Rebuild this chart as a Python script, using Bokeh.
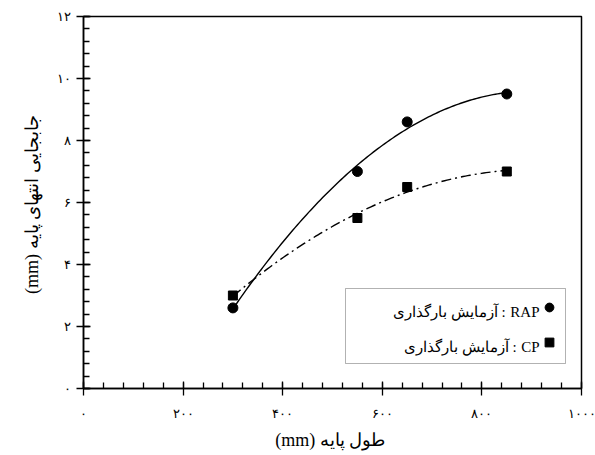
import numpy as np
from bokeh.plotting import figure
from bokeh.models import (Range1d, SingleIntervalTicker, Legend, LegendItem,
                          Label, BoxAnnotation)
from bokeh.embed import file_html
from bokeh.resources import INLINE

# ---- data ----
pile_length = [300, 550, 650, 850]          # mm
rap_disp = [2.6, 7.0, 8.6, 9.5]             # mm
cp_disp = [3.0, 5.5, 6.5, 7.0]              # mm

x_ticks = [0, 200, 400, 600, 800, 1000]
x_tick_labels = ["۰", "۲۰۰", "۴۰۰", "۶۰۰", "۸۰۰", "۱۰۰۰"]
y_ticks = [0, 2, 4, 6, 8, 10, 12]
y_tick_labels = ["۰", "۲", "۴", "۶", "۸", "۱۰", "۱۲"]

x_label = "(mm)  طول پایه"
y_label = "(mm)  جابجایی انتهای پایه"
test_word = "آزمایش بارگذاری"
series_names = ["RAP", "CP"]

FONT = "Liberation Serif"

p = figure(frame_width=498, frame_height=372, output_backend="svg",
           toolbar_location=None, x_range=Range1d(0, 1000), y_range=Range1d(0, 12),
           min_border_left=83, min_border_right=14, min_border_top=16,
           min_border_bottom=67)
p.xgrid.visible = False
p.ygrid.visible = False
p.outline_line_color = "black"
p.outline_line_width = 1.5
p.background_fill_color = "white"
p.border_fill_color = "white"

# quadratic trend curves from the data
xs = np.linspace(min(pile_length), max(pile_length), 120)
rap_fit = np.polyval(np.polyfit(pile_length, rap_disp, 2), xs)
cp_fit = np.polyval(np.polyfit(pile_length, cp_disp, 2), xs)
p.line(xs, rap_fit, line_color="black", line_width=1.4)
p.line(xs, cp_fit, line_color="black", line_width=1.4, line_dash="10 4 2 4")

r_rap = p.scatter(pile_length, rap_disp, marker="circle", size=10,
                  fill_color="black", line_color="black")
r_cp = p.scatter(pile_length, cp_disp, marker="square", size=9,
                 fill_color="black", line_color="black")

# axes
p.xaxis.ticker = SingleIntervalTicker(interval=200, num_minor_ticks=5)
p.yaxis.ticker = SingleIntervalTicker(interval=2, num_minor_ticks=5)
p.xaxis.major_label_overrides = {v: s for v, s in zip(x_ticks, x_tick_labels)}
p.yaxis.major_label_overrides = {v: s for v, s in zip(y_ticks, y_tick_labels)}
for ax in (p.xaxis[0], p.yaxis[0]):
    ax.axis_line_color = "black"
    ax.axis_line_width = 1.5
    ax.major_tick_line_color = "black"
    ax.minor_tick_line_color = "black"
    ax.major_tick_line_width = 1.3
    ax.minor_tick_line_width = 1.3
    ax.major_tick_in = 7
    ax.major_tick_out = 7
    ax.minor_tick_in = 6
    ax.minor_tick_out = 0
    ax.major_label_text_font = FONT
    ax.major_label_text_font_size = "13px"
    ax.major_label_text_color = "black"
    ax.axis_label_text_font = FONT
    ax.axis_label_text_font_size = "18px"
    ax.axis_label_text_font_style = "normal"
    ax.axis_label_text_color = "black"
p.xaxis.axis_label = x_label
p.yaxis.axis_label = y_label
p.xaxis.major_label_standoff = 10
p.xaxis.axis_label_standoff = 6
p.yaxis.major_label_standoff = 6
p.yaxis.axis_label_standoff = 12

# legend: frame box, text pieces right-aligned, markers on the right
box = BoxAnnotation(left=262, right=482, top=100, bottom=25,
                    left_units="screen", right_units="screen",
                    top_units="screen", bottom_units="screen",
                    fill_alpha=0, line_color="black", line_width=1)
p.add_layout(box)

def legend_line(name, name_width, y):
    common = dict(x_units="screen", y_units="screen", y=y,
                  text_baseline="alphabetic", text_font=FONT,
                  text_font_size="15px", text_color="black")
    p.add_layout(Label(x=456, text=name, text_align="right", **common))
    colon_x = 456 - name_width - 7
    p.add_layout(Label(x=colon_x, text=":", text_align="center", **common))
    p.add_layout(Label(x=colon_x - 6, text=test_word, text_align="right", **common))

legend_line(series_names[0], 29, 77)
legend_line(series_names[1], 18, 42)

legend = Legend(items=[LegendItem(label=" ", renderers=[r_rap]),
                       LegendItem(label=" ", renderers=[r_cp])],
                location=(455, 35), glyph_width=22, glyph_height=22, spacing=13,
                padding=0, margin=0, label_standoff=0, label_width=0,
                label_height=0, label_text_font_size="1px",
                border_line_alpha=0, background_fill_alpha=0)
p.add_layout(legend)

open("out.html", "w").write(file_html(p, INLINE))
